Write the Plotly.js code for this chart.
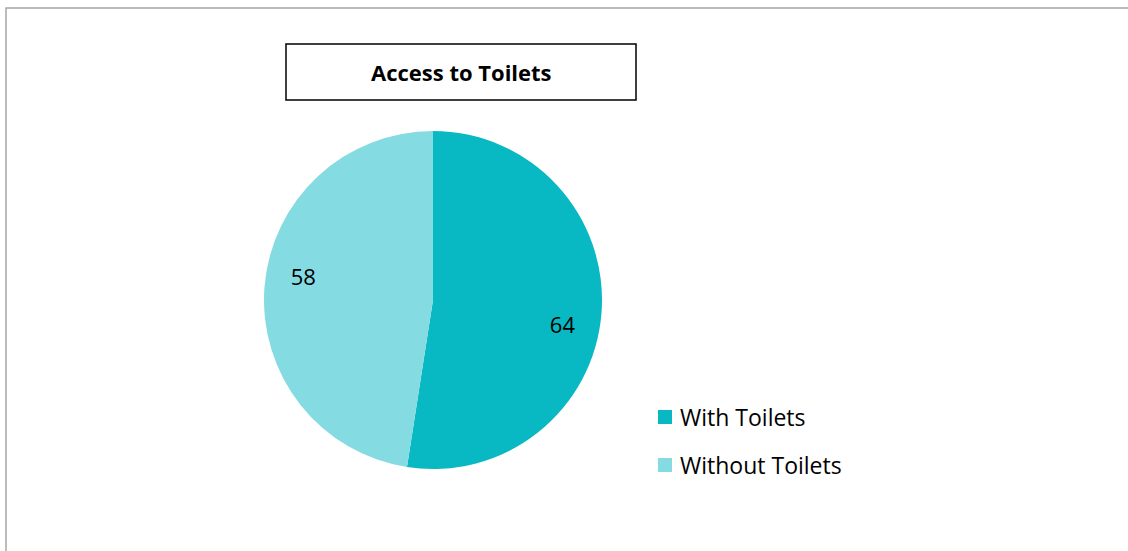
<!DOCTYPE html>
<html>
<head>
<meta charset="utf-8">
<script src="https://cdn.plot.ly/plotly-3.0.1.min.js"></script>
<style>html,body{margin:0;padding:0;background:#fff;}#chart{width:1128px;height:551px;}</style>
</head>
<body>
<div id="chart"></div>
<script>
const labels = ["With Toilets", "Without Toilets"];
const values = [64, 58];
const colors = ["#08B8C2", "#84DBE1"];
const chartTitle = "Access to Toilets";

const W = 1128, H = 551;
const cx = 433, cy = 300, r = 169;
const FONT = "'Open Sans', 'Noto Sans', sans-serif";
const dom = {x: [(cx - r) / W, (cx + r) / W], y: [(H - cy - r) / H, (H - cy + r) / H]};

const pieTrace = {
  type: "pie",
  labels: labels,
  values: values,
  sort: false,
  direction: "clockwise",
  rotation: 0,
  marker: {colors: colors, line: {width: 0}},
  textinfo: "none",
  hoverinfo: "label+value",
  showlegend: false,
  domain: dom
};
// transparent ring overlay so the value labels sit out toward the rim
const labelTrace = {
  type: "pie",
  labels: labels,
  values: values,
  sort: false,
  direction: "clockwise",
  rotation: 6,
  hole: 0.56,
  marker: {colors: ["rgba(0,0,0,0)", "rgba(0,0,0,0)"], line: {width: 0}},
  textinfo: "value",
  textposition: "inside",
  insidetextorientation: "horizontal",
  textfont: {family: FONT, size: 22, color: "#000000"},
  hoverinfo: "skip",
  showlegend: false,
  domain: dom
};

const shapes = [
  {type: "rect", xref: "paper", yref: "paper", x0: 6 / W, x1: 1.05, y0: -0.05, y1: 1 - 8 / H,
   line: {color: "#a6a6a6", width: 1.5}, fillcolor: "rgba(0,0,0,0)"},
  {type: "rect", xref: "paper", yref: "paper", x0: 286 / W, x1: 636 / W, y0: 1 - 100 / H, y1: 1 - 44 / H,
   line: {color: "#000000", width: 1.5}, fillcolor: "#ffffff"}
];
const annotations = [
  {text: "<b>" + chartTitle + "</b>", xref: "paper", yref: "paper", x: 461 / W, y: 1 - 72 / H,
   xanchor: "center", yanchor: "middle", showarrow: false,
   font: {family: FONT, size: 22, color: "#000000"}}
];
// manual legend built from data arrays
labels.forEach((lab, i) => {
  const yc = 417 + i * 48;
  shapes.push({type: "rect", xref: "paper", yref: "paper",
    x0: 658 / W, x1: 672 / W, y0: 1 - (yc + 7) / H, y1: 1 - (yc - 7) / H,
    line: {width: 0}, fillcolor: colors[i]});
  annotations.push({text: lab, xref: "paper", yref: "paper", x: 678 / W, y: 1 - yc / H,
    xanchor: "left", yanchor: "middle", showarrow: false,
    font: {family: FONT, size: 23, color: "#000000"}});
});

const layout = {
  width: W, height: H,
  margin: {l: 0, r: 0, t: 0, b: 0},
  paper_bgcolor: "#ffffff",
  showlegend: false,
  shapes: shapes,
  annotations: annotations
};

Plotly.newPlot("chart", [pieTrace, labelTrace], layout, {displayModeBar: false, staticPlot: true});
</script>
</body>
</html>
